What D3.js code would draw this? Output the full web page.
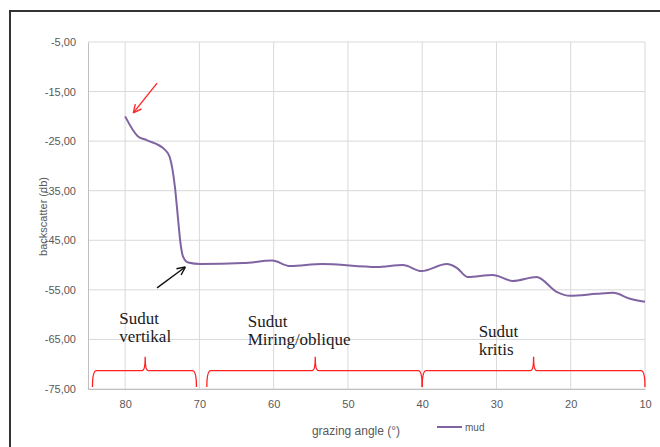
<!DOCTYPE html>
<html>
<head>
<meta charset="utf-8">
<script src="https://cdn.jsdelivr.net/npm/d3@7"></script>
<style>
  body { margin: 0; background: #fff; }
  svg { display: block; }
</style>
</head>
<body>
<div id="chart"></div>
<script>
// Backscatter vs grazing angle, series "mud"
const angle       = [80, 78.3, 77.1, 74.6, 74.0, 73.3, 72.9, 72.6, 72.2, 71.5, 69.9, 64.1, 60.2, 57.8, 53.5, 46.1, 42.6, 40.1, 36.7, 35.3, 33.9, 30.5, 27.8, 24.6, 21.9, 20.1, 16.5, 14.3, 12.0, 10.0];
const backscatter = [-20, -24.0, -24.8, -26.8, -28.2, -34.2, -40.3, -44.9, -48.3, -49.5, -49.8, -49.6, -49.1, -50.2, -49.8, -50.4, -50.0, -51.2, -49.8, -50.6, -52.4, -52.0, -53.2, -52.4, -55.4, -56.2, -55.8, -55.6, -56.8, -57.4];

const yTicks = [-5, -15, -25, -35, -45, -55, -65, -75];
const xTicks = [80, 70, 60, 50, 40, 30, 20, 10];

// Brace annotations along the bottom (degrees)
const braceStart = [84.4, 69.0, 40.0];
const braceEnd   = [70.4, 40.0, 10.0];
const bracePeak  = [77.3, 54.4, 25.0];

const labelLines = [["Sudut", "vertikal"], ["Sudut", "Miring/oblique"], ["Sudut", "kritis"]];
const labelAngle = [80.8, 63.5, 32.4];
const labelValue = [-61.8, -62.4, -64.6];

// arrows: from/to as [angle, value]
const arrows = [
  { from: [75.7, -13.3], to: [78.9, -19.3], color: "#ff2a2a" },
  { from: [75.7, -54.6], to: [71.9, -50.4], color: "#111" }
];

const W = 660, H = 447;
const margin = { top: 42, right: 15, bottom: 58, left: 88 };

const svg = d3.select("#chart").append("svg").attr("width", W).attr("height", H);

// outer frame
svg.append("line").attr("x1", 9).attr("x2", W).attr("y1", 11).attr("y2", 11)
  .attr("stroke", "#333").attr("stroke-width", 2);
svg.append("line").attr("x1", 10).attr("x2", 10).attr("y1", 11).attr("y2", H)
  .attr("stroke", "#333").attr("stroke-width", 2);

const x = d3.scaleLinear().domain([85, 10]).range([margin.left, W - margin.right]);
const y = d3.scaleLinear().domain([-75, -5]).range([H - margin.bottom, margin.top]);

// gridlines
svg.append("g").selectAll("line").data(yTicks).join("line")
  .attr("x1", x(85)).attr("x2", x(10))
  .attr("y1", d => y(d)).attr("y2", d => y(d))
  .attr("stroke", "#d9d9d9").attr("stroke-width", 1);
svg.append("g").selectAll("line").data(xTicks).join("line")
  .attr("x1", d => x(d)).attr("x2", d => x(d))
  .attr("y1", y(-5)).attr("y2", y(-75))
  .attr("stroke", "#d9d9d9").attr("stroke-width", 1);

// axes
svg.append("g")
  .attr("transform", `translate(${margin.left},0)`)
  .call(d3.axisLeft(y).tickValues(yTicks).tickSize(0).tickPadding(12)
    .tickFormat(d => d.toFixed(2).replace(".", ",")))
  .call(g => g.select(".domain").attr("stroke", "#bfbfbf"))
  .call(g => g.selectAll("text").attr("font-family", "Liberation Sans, Arial, sans-serif")
    .attr("font-size", "11px").attr("fill", "#595959"));

svg.append("g")
  .attr("transform", `translate(0,${y(-75)})`)
  .call(d3.axisBottom(x).tickValues(xTicks).tickSize(0).tickPadding(11))
  .call(g => g.select(".domain").attr("stroke", "#bfbfbf"))
  .call(g => g.selectAll("text").attr("font-family", "Liberation Sans, Arial, sans-serif")
    .attr("font-size", "11px").attr("fill", "#595959"));

// axis titles
svg.append("text")
  .attr("transform", `translate(47,${(y(-5) + y(-75)) / 2 + 1}) rotate(-90)`)
  .attr("text-anchor", "middle")
  .attr("font-family", "Liberation Sans, Arial, sans-serif")
  .attr("font-size", "11px").attr("fill", "#595959")
  .text("backscatter (db)");

svg.append("text")
  .attr("x", 356).attr("y", 435)
  .attr("text-anchor", "middle")
  .attr("font-family", "Liberation Sans, Arial, sans-serif")
  .attr("font-size", "12px").attr("fill", "#595959")
  .text("grazing angle (°)");

// legend
svg.append("line").attr("x1", 437).attr("x2", 462).attr("y1", 427).attr("y2", 427)
  .attr("stroke", "#8064a2").attr("stroke-width", 2);
svg.append("text").attr("x", 465).attr("y", 430.5)
  .attr("font-family", "Liberation Sans, Arial, sans-serif")
  .attr("font-size", "10px").attr("fill", "#595959").text("mud");

// series line
const series = angle.map((a, i) => ({ a, v: backscatter[i] }));
svg.append("path").datum(series)
  .attr("fill", "none")
  .attr("stroke", "#8064a2")
  .attr("stroke-width", 2)
  .attr("d", d3.line().x(d => x(d.a)).y(d => y(d.v)).curve(d3.curveMonotoneX));

// braces
const yLine = y(-71.3), yFoot = y(-74.6), yTip = y(-68.5);
braceStart.forEach((s, i) => {
  const x0 = x(s), x1 = x(braceEnd[i]), xp = x(bracePeak[i]);
  const r = 4, r2 = 3;
  const p = d3.path();
  p.moveTo(x0, yFoot);
  p.quadraticCurveTo(x0, yLine, x0 + r, yLine);
  p.lineTo(xp - r2, yLine);
  p.quadraticCurveTo(xp, yLine, xp, yTip);
  p.quadraticCurveTo(xp, yLine, xp + r2, yLine);
  p.lineTo(x1 - r, yLine);
  p.quadraticCurveTo(x1, yLine, x1, yFoot);
  svg.append("path").attr("d", p.toString())
    .attr("fill", "none").attr("stroke", "#ff2020").attr("stroke-width", 1.3);
});

// labels
labelLines.forEach((lines, i) => {
  const t = svg.append("text")
    .attr("x", x(labelAngle[i])).attr("y", y(labelValue[i]))
    .attr("font-family", "Liberation Serif, Times New Roman, serif")
    .attr("font-size", "17px").attr("fill", "#1a1a1a");
  lines.forEach((ln, j) => {
    t.append("tspan").attr("x", x(labelAngle[i])).attr("dy", j === 0 ? 0 : 18).text(ln);
  });
});

// arrows
arrows.forEach(ar => {
  const fx = x(ar.from[0]), fy = y(ar.from[1]);
  const tx = x(ar.to[0]), ty = y(ar.to[1]);
  const ang = Math.atan2(ty - fy, tx - fx);
  const hl = 9, spread = 0.45;
  svg.append("line").attr("x1", fx).attr("y1", fy).attr("x2", tx).attr("y2", ty)
    .attr("stroke", ar.color).attr("stroke-width", 1.4);
  [ang + Math.PI - spread, ang + Math.PI + spread].forEach(a2 => {
    svg.append("line").attr("x1", tx).attr("y1", ty)
      .attr("x2", tx + hl * Math.cos(a2)).attr("y2", ty + hl * Math.sin(a2))
      .attr("stroke", ar.color).attr("stroke-width", 1.4);
  });
});
</script>
</body>
</html>
